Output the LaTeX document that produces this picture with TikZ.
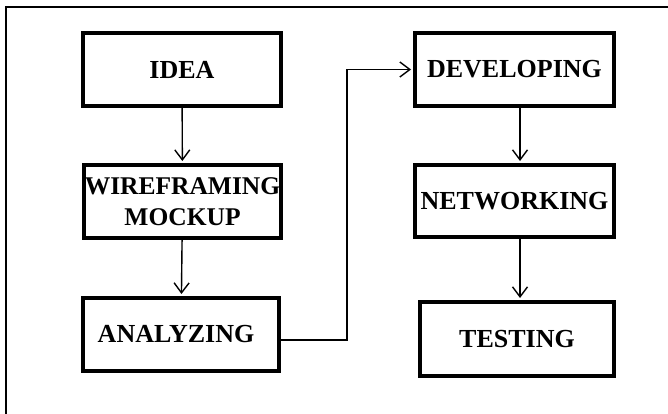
\documentclass[tikz,border=0pt]{standalone}
\usepackage{fontspec}
\setmainfont{Liberation Serif}
\usetikzlibrary{arrows.meta}

\tikzset{
  stepbox/.style={draw, line width=4pt, inner sep=0pt, minimum width=198pt, minimum height=73pt,
    align=center, font=\bfseries\fontsize{26}{31}\selectfont},
  flow/.style={->, line width=1.4pt, shorten >=2pt}
}

\begin{document}
\begin{tikzpicture}[x=1pt, y=-1pt, >={Straight Barb[length=10pt, width=15pt]}]
  \useasboundingbox (0, 0) rectangle (668, 414);
  \draw [line width=1.5pt] (6, 414) -- (6, 7) -- (668, 7);
  \node [stepbox] (idea) at (182, 69.5) {IDEA};
  \node [stepbox, minimum width=197pt, font=\bfseries\fontsize{25.5}{31}\selectfont] (wire) at (182.5, 201.5) {WIREFRAMING\\MOCKUP};
  \node [stepbox, minimum width=196pt] (analyze) at (181, 334.5) {\hspace*{-10pt}ANALYZING};
  \node [stepbox, minimum width=199pt] (dev) at (514.5, 69.5) {DEVELOPING};
  \node [stepbox, minimum width=199pt, minimum height=72pt] (net) at (514.5, 201) {NETWORKING};
  \node [stepbox, minimum width=194pt, minimum height=74pt] (test) at (517, 339) {TESTING};
  \coordinate (bend) at (347, 340);
  \draw [flow] (idea) -- (wire);
  \draw [flow] (wire) -- (analyze);
  \draw [flow] ([yshift=-5.5pt]analyze.east) -- (bend) |- (dev.west);
  \draw [flow] (dev.south -| 520, 0) -- (net.north -| 520, 0);
  \draw [flow] (net.south -| 520, 0) -- (test.north -| 520, 0);
\end{tikzpicture}
\end{document}
